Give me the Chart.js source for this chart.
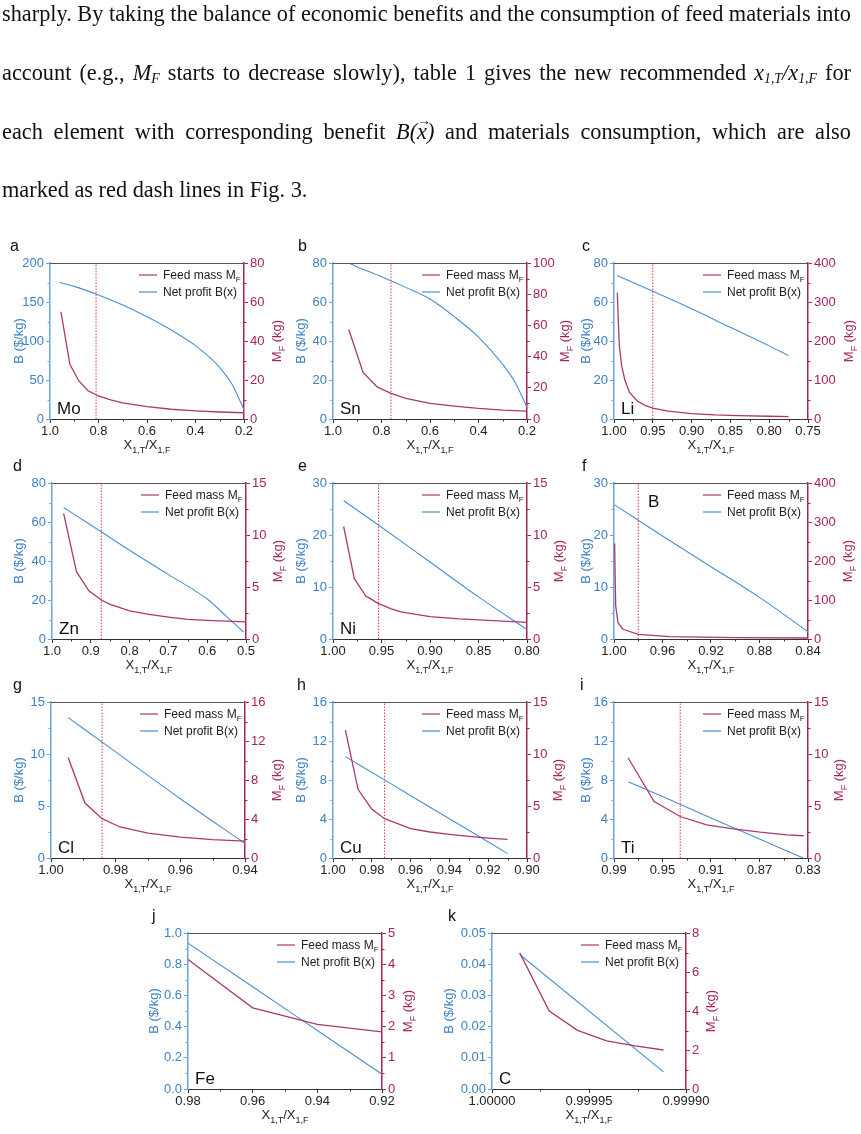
<!DOCTYPE html>
<html>
<head>
<meta charset="utf-8">
<script src="https://cdn.jsdelivr.net/npm/chart.js@4.4.1/dist/chart.umd.min.js"></script>
<style>
html, body { margin: 0; padding: 0; background: #fff; }
body { width: 861px; height: 1134px; position: relative; overflow: hidden; }
#para { position: absolute; left: 2px; top: 0; transform-origin: 0 0;
        font-family: "Liberation Serif", "Times New Roman", serif; font-size: 24px; color: #111; }
.line { position: absolute; left: 0; white-space: nowrap; line-height: 1; }
.just { display: flex; justify-content: space-between; }
.line sub { font-size: 0.62em; vertical-align: -0.22em; line-height: 0; }
v { position: relative; display: inline-block; }
v::after { content: '\2192'; position: absolute; left: 0.02em; top: -0.42em; font-size: 0.62em; font-style: normal; }
canvas { position: absolute; }
</style>
</head>
<body>
<div id="para"></div>
<script>
// ---- paragraph above the figure ----
const TEXT_LINES = [
  'sharply. By taking the balance of economic benefits and the consumption of feed materials into',
  'account (e.g., <i>M<sub>F</sub></i> starts to decrease slowly), table 1 gives the new recommended <i>x<sub>1,T</sub>/x<sub>1,F</sub></i> for',
  'each element with corresponding benefit <i>B(<v>x</v>)</i> and materials consumption, which are also',
  'marked as red dash lines in Fig. 3.'
];
const TEXT_BASELINES = [21, 80, 139, 197];

// ---- data ----
// a: Mo
const MO_X_TICKS = ['1.0', '0.8', '0.6', '0.4', '0.2'];
const MO_B_TICKS = ['0', '50', '100', '150', '200'];
const MO_M_TICKS = ['0', '20', '40', '60', '80'];
const MO_B_X = [0.96, 0.9, 0.8, 0.7, 0.6, 0.5, 0.4, 0.3, 0.25, 0.2];
const MO_B = [175, 170, 159, 146, 131, 114, 94, 66, 45, 12];
const MO_MF_X = [0.955, 0.918, 0.881, 0.843, 0.8, 0.75, 0.7, 0.6, 0.5, 0.4, 0.3, 0.2];
const MO_MF = [55, 28, 19.5, 14.5, 11.8, 9.8, 8.3, 6.3, 5, 4.2, 3.6, 3.2];
const MO_CUT = 0.81;

// b: Sn
const SN_X_TICKS = ['1.0', '0.8', '0.6', '0.4', '0.2'];
const SN_B_TICKS = ['0', '20', '40', '60', '80'];
const SN_M_TICKS = ['0', '20', '40', '60', '80', '100'];
const SN_B_X = [0.935, 0.9, 0.8, 0.7, 0.6, 0.5, 0.4, 0.3, 0.25, 0.2];
const SN_B = [80, 78, 73, 67.5, 61.5, 52.5, 42, 28, 19, 6];
const SN_MF_X = [0.935, 0.876, 0.818, 0.761, 0.7, 0.6, 0.5, 0.4, 0.3, 0.2];
const SN_MF = [57.4, 29.8, 20.6, 16.4, 13.2, 10, 8.3, 6.8, 5.7, 5.1];
const SN_CUT = 0.761;

// c: Li
const LI_X_TICKS = ['1.00', '0.95', '0.90', '0.85', '0.80', '0.75'];
const LI_B_TICKS = ['0', '20', '40', '60', '80'];
const LI_M_TICKS = ['0', '100', '200', '300', '400'];
const LI_B_X = [0.996, 0.95, 0.9, 0.85, 0.8, 0.775];
const LI_B = [73.6, 65.5, 56.5, 47, 37.5, 32.5];
const LI_MF_X = [0.9957, 0.9945, 0.993, 0.99, 0.986, 0.98, 0.97, 0.96, 0.95, 0.93, 0.9, 0.87, 0.84, 0.8, 0.775];
const LI_MF = [324, 250, 185, 135, 100, 68, 46, 35, 28, 20, 14, 10.5, 8.5, 7, 6];
const LI_CUT = 0.95;

// d: Zn
const ZN_X_TICKS = ['1.0', '0.9', '0.8', '0.7', '0.6', '0.5'];
const ZN_B_TICKS = ['0', '20', '40', '60', '80'];
const ZN_M_TICKS = ['0', '5', '10', '15'];
const ZN_B_X = [0.97, 0.9, 0.8, 0.7, 0.6, 0.55, 0.506];
const ZN_B = [67.4, 58.5, 45.5, 33, 20.5, 11.5, 3.6];
const ZN_MF_X = [0.97, 0.937, 0.905, 0.873, 0.85, 0.8, 0.75, 0.7, 0.65, 0.6, 0.55, 0.5];
const ZN_MF = [12.07, 6.47, 4.63, 3.75, 3.33, 2.7, 2.36, 2.1, 1.88, 1.8, 1.72, 1.65];
const ZN_CUT = 0.873;

// e: Ni
const NI_X_TICKS = ['1.00', '0.95', '0.90', '0.85', '0.80'];
const NI_B_TICKS = ['0', '10', '20', '30'];
const NI_M_TICKS = ['0', '5', '10', '15'];
const NI_B_X = [0.989, 0.95, 0.9, 0.85, 0.8];
const NI_B = [26.6, 21.5, 14.8, 8.1, 1.8];
const NI_MF_X = [0.989, 0.978, 0.966, 0.962, 0.954, 0.94, 0.93, 0.9, 0.87, 0.85, 0.8];
const NI_MF = [10.8, 5.8, 4.1, 3.9, 3.45, 2.9, 2.6, 2.16, 1.94, 1.84, 1.6];
const NI_CUT = 0.953;

// f: B
const BO_X_TICKS = ['1.00', '0.96', '0.92', '0.88', '0.84'];
const BO_B_TICKS = ['0', '10', '20', '30'];
const BO_M_TICKS = ['0', '100', '200', '300', '400'];
const BO_B_X = [0.9995, 0.96, 0.92, 0.88, 0.84];
const BO_B = [25.8, 19.8, 13.9, 8.0, 1.4];
const BO_MF_X = [0.9995, 0.9986, 0.9967, 0.9926, 0.98, 0.954, 0.899, 0.84];
const BO_MF = [245, 85, 42, 25, 12, 6, 3.4, 2.6];
const BO_CUT = 0.98;

// g: Cl
const CL_X_TICKS = ['1.00', '0.98', '0.96', '0.94'];
const CL_B_TICKS = ['0', '5', '10', '15'];
const CL_M_TICKS = ['0', '4', '8', '12', '16'];
const CL_B_X = [0.9947, 0.98, 0.96, 0.94];
const CL_B = [13.5, 10.2, 5.7, 1.4];
const CL_MF_X = [0.9947, 0.9895, 0.9842, 0.9787, 0.97, 0.96, 0.95, 0.94];
const CL_MF = [10.3, 5.64, 4.03, 3.18, 2.56, 2.15, 1.88, 1.74];
const CL_CUT = 0.9842;

// h: Cu
const CU_X_TICKS = ['1.00', '0.98', '0.96', '0.94', '0.92', '0.90'];
const CU_B_TICKS = ['0', '4', '8', '12', '16'];
const CU_M_TICKS = ['0', '5', '10', '15'];
const CU_B_X = [0.9936, 0.97, 0.95, 0.93, 0.91];
const CU_B = [10.4, 7.6, 5.2, 2.85, 0.45];
const CU_MF_X = [0.9936, 0.9871, 0.9802, 0.9734, 0.96, 0.95, 0.94, 0.93, 0.92, 0.91];
const CU_MF = [12.3, 6.6, 4.74, 3.78, 2.82, 2.5, 2.28, 2.08, 1.92, 1.8];
const CU_CUT = 0.9734;

// i: Ti
const TI_X_TICKS = ['0.99', '0.95', '0.91', '0.87', '0.83'];
const TI_B_TICKS = ['0', '4', '8', '12', '16'];
const TI_M_TICKS = ['0', '5', '10', '15'];
const TI_B_X = [0.978, 0.95, 0.91, 0.87, 0.834];
const TI_B = [7.8, 6.3, 4.1, 1.95, 0];
const TI_MF_X = [0.9784, 0.9569, 0.9354, 0.9136, 0.8915, 0.8694, 0.8474, 0.8336];
const TI_MF = [9.64, 5.43, 3.99, 3.19, 2.81, 2.49, 2.23, 2.14];
const TI_CUT = 0.9354;

// j: Fe
const FE_X_TICKS = ['0.98', '0.96', '0.94', '0.92'];
const FE_B_TICKS = ['0.0', '0.2', '0.4', '0.6', '0.8', '1.0'];
const FE_M_TICKS = ['0', '1', '2', '3', '4', '5'];
const FE_B_X = [0.98, 0.96, 0.94, 0.92];
const FE_B = [0.935, 0.655, 0.375, 0.095];
const FE_MF_X = [0.98, 0.96, 0.94, 0.92];
const FE_MF = [4.15, 2.6, 2.07, 1.83];

// k: C
const C_X_TICKS = ['1.00000', '0.99995', '0.99990'];
const C_B_TICKS = ['0.00', '0.01', '0.02', '0.03', '0.04', '0.05'];
const C_M_TICKS = ['0', '2', '4', '6', '8'];
const C_B_X = [0.9999857, 0.9999116];
const C_B = [0.0431, 0.0055];
const C_MF_X = [0.9999857, 0.9999705, 0.9999559, 0.9999409, 0.9999262, 0.9999116];
const C_MF = [6.98, 4.0, 3.01, 2.47, 2.21, 2.0];

// ---- styles ----
const FONT = '"Liberation Sans", Arial, Helvetica, sans-serif';
const BLUE_LINE = '#4b8fd0';
const BLUE_AXIS = '#6aa6dc';
const BLUE_TEXT = '#3d80c6';
const MF_LINE = '#a83a70';
const CRIMSON = '#a6225f';
const CUT_RED = '#e5393b';
const DARK = '#222';

const PAD_L = 56, PAD_R = 56, PAD_T = 28, PAD_B = 40;
const PLOT_W = 194, PLOT_H = 156;

const PANELS = [
  { letter: 'a', el: 'Mo', left: 50, top: 263, xT: MO_X_TICKS, bT: MO_B_TICKS, mT: MO_M_TICKS, bX: MO_B_X, b: MO_B, mX: MO_MF_X, m: MO_MF, cut: MO_CUT, lOff: 32, rOff: 32, letOff: 40 },
  { letter: 'b', el: 'Sn', left: 333, top: 263, xT: SN_X_TICKS, bT: SN_B_TICKS, mT: SN_M_TICKS, bX: SN_B_X, b: SN_B, mX: SN_MF_X, m: SN_MF, cut: SN_CUT, lOff: 33, rOff: 37, letOff: 35 },
  { letter: 'c', el: 'Li', left: 614, top: 263, xT: LI_X_TICKS, bT: LI_B_TICKS, mT: LI_M_TICKS, bX: LI_B_X, b: LI_B, mX: LI_MF_X, m: LI_MF, cut: LI_CUT, lOff: 29, rOff: 40, letOff: 32 },
  { letter: 'd', el: 'Zn', left: 52, top: 483, xT: ZN_X_TICKS, bT: ZN_B_TICKS, mT: ZN_M_TICKS, bX: ZN_B_X, b: ZN_B, mX: ZN_MF_X, m: ZN_MF, cut: ZN_CUT, lOff: 34, rOff: 31, letOff: 39 },
  { letter: 'e', el: 'Ni', left: 333, top: 483, xT: NI_X_TICKS, bT: NI_B_TICKS, mT: NI_M_TICKS, bX: NI_B_X, b: NI_B, mX: NI_MF_X, m: NI_MF, cut: NI_CUT, lOff: 33, rOff: 31, letOff: 35 },
  { letter: 'f', el: 'B', elTop: true, left: 614, top: 483, xT: BO_X_TICKS, bT: BO_B_TICKS, mT: BO_M_TICKS, bX: BO_B_X, b: BO_B, mX: BO_MF_X, m: BO_MF, cut: BO_CUT, lOff: 29, rOff: 39, letOff: 32 },
  { letter: 'g', el: 'Cl', left: 51, top: 702, xT: CL_X_TICKS, bT: CL_B_TICKS, mT: CL_M_TICKS, bX: CL_B_X, b: CL_B, mX: CL_MF_X, m: CL_MF, cut: CL_CUT, lOff: 33, rOff: 31, letOff: 38 },
  { letter: 'h', el: 'Cu', left: 333, top: 702, xT: CU_X_TICKS, bT: CU_B_TICKS, mT: CU_M_TICKS, bX: CU_B_X, b: CU_B, mX: CU_MF_X, m: CU_MF, cut: CU_CUT, lOff: 33, rOff: 30, letOff: 36 },
  { letter: 'i', el: 'Ti', left: 614, top: 702, xT: TI_X_TICKS, bT: TI_B_TICKS, mT: TI_M_TICKS, bX: TI_B_X, b: TI_B, mX: TI_MF_X, m: TI_MF, cut: TI_CUT, lOff: 29, rOff: 30, letOff: 34 },
  { letter: 'j', el: 'Fe', left: 188, top: 933, xT: FE_X_TICKS, bT: FE_B_TICKS, mT: FE_M_TICKS, bX: FE_B_X, b: FE_B, mX: FE_MF_X, m: FE_MF, cut: null, lOff: 35, rOff: 25, letOff: 36 },
  { letter: 'k', el: 'C', left: 492, top: 933, xT: C_X_TICKS, bT: C_B_TICKS, mT: C_M_TICKS, bX: C_B_X, b: C_B, mX: C_MF_X, m: C_MF, cut: null, lOff: 44, rOff: 24, letOff: 44 }
];

// ---- paragraph layout ----
(function buildParagraph() {
  const para = document.getElementById('para');
  const divs = TEXT_LINES.map((html, i) => {
    const d = document.createElement('div');
    d.className = 'line';
    d.innerHTML = html;
    d.style.top = (TEXT_BASELINES[i] - 20.2) + 'px';
    para.appendChild(d);
    return d;
  });
  const w = divs.map(d => d.getBoundingClientRect().width);
  const s = Math.min(316 / w[3], 849 / Math.max(w[0], w[1], w[2]));
  divs.slice(0, 3).forEach((d, i) => {
    d.innerHTML = TEXT_LINES[i].split(' ').map(t => '<span>' + t + '</span>').join('');
    d.classList.add('just');
    d.style.width = (849 / s) + 'px';
  });
  para.style.transform = 'scaleX(' + s + ')';
})();

// ---- drawing helpers ----
function richText(ctx, parts, x, y, size, color, align) {
  let total = 0;
  parts.forEach(p => {
    ctx.font = (p.sub ? Math.round(size * 0.7) : size) + 'px ' + FONT;
    p.w = ctx.measureText(p.t).width;
    total += p.w;
  });
  let cx = align === 'left' ? x : x - total / 2;
  ctx.fillStyle = color;
  ctx.textAlign = 'left';
  ctx.textBaseline = 'alphabetic';
  parts.forEach(p => {
    ctx.font = (p.sub ? Math.round(size * 0.7) : size) + 'px ' + FONT;
    ctx.fillText(p.t, cx, p.sub ? y + size * 0.28 : y);
    cx += p.w;
  });
}

function minorTicks(ctx, scale, side, a, color) {
  const t = scale.ticks.map(k => k.value);
  ctx.strokeStyle = color;
  ctx.lineWidth = 1;
  ctx.beginPath();
  for (let i = 0; i < t.length - 1; i++) {
    const p = Math.round(scale.getPixelForValue((t[i] + t[i + 1]) / 2)) + 0.5;
    if (side === 'x') { ctx.moveTo(p, a.bottom); ctx.lineTo(p, a.bottom + 2.5); }
    else if (side === 'l') { ctx.moveTo(a.left - 2.5, p); ctx.lineTo(a.left, p); }
    else { ctx.moveTo(a.right, p); ctx.lineTo(a.right + 2.5, p); }
  }
  ctx.stroke();
}

const decor = {
  id: 'decor',
  afterDraw(chart, args, cfg) {
    const ctx = chart.ctx, a = chart.chartArea;
    ctx.save();
    // top frame line
    ctx.strokeStyle = '#555';
    ctx.lineWidth = 1;
    ctx.beginPath();
    ctx.moveTo(a.left, a.top + 0.5);
    ctx.lineTo(a.right, a.top + 0.5);
    ctx.stroke();

    minorTicks(ctx, chart.scales.x, 'x', a, '#333');
    minorTicks(ctx, chart.scales.yB, 'l', a, BLUE_AXIS);
    minorTicks(ctx, chart.scales.yM, 'r', a, CRIMSON);

    // legend
    const lx = a.right - 105, ly = a.top + 12;
    ctx.lineWidth = 1.2;
    ctx.strokeStyle = MF_LINE;
    ctx.beginPath(); ctx.moveTo(lx, ly); ctx.lineTo(lx + 18, ly); ctx.stroke();
    ctx.strokeStyle = BLUE_LINE;
    ctx.beginPath(); ctx.moveTo(lx, ly + 17); ctx.lineTo(lx + 18, ly + 17); ctx.stroke();
    richText(ctx, [{ t: 'Feed mass M' }, { t: 'F', sub: true }], lx + 24, ly + 4, 12, DARK, 'left');
    richText(ctx, [{ t: 'Net profit B(x)' }], lx + 24, ly + 21, 12, DARK, 'left');

    // axis titles
    const midY = (a.top + a.bottom) / 2;
    richText(ctx, [{ t: 'X' }, { t: '1,T', sub: true }, { t: '/X' }, { t: '1,F', sub: true }],
      (a.left + a.right) / 2, a.bottom + 30, 13, DARK, 'center');
    ctx.save();
    ctx.translate(a.left - cfg.lOff, midY);
    ctx.rotate(-Math.PI / 2);
    richText(ctx, [{ t: 'B ($/kg)' }], 0, 5, 13, BLUE_TEXT, 'center');
    ctx.restore();
    ctx.save();
    ctx.translate(a.right + cfg.rOff, midY);
    ctx.rotate(-Math.PI / 2);
    richText(ctx, [{ t: 'M' }, { t: 'F', sub: true }, { t: ' (kg)' }], 0, 5, 13, CRIMSON, 'center');
    ctx.restore();

    // panel letter and element label
    ctx.fillStyle = '#111';
    ctx.font = '16px ' + FONT;
    ctx.textAlign = 'left';
    ctx.textBaseline = 'alphabetic';
    ctx.fillText(cfg.letter, a.left - cfg.letOff, a.top - 12);
    ctx.font = '17px ' + FONT;
    if (cfg.elTop) ctx.fillText(cfg.el, a.left + 34, a.top + 24);
    else ctx.fillText(cfg.el, a.left + 7, a.bottom - 5);
    ctx.restore();
  }
};

function pts(xs, ys) { return xs.map((x, i) => ({ x: x, y: ys[i] })); }

function makePanel(cfg) {
  const xv = cfg.xT.map(Number), bv = cfg.bT.map(Number), mv = cfg.mT.map(Number);
  const canvas = document.createElement('canvas');
  const cw = PLOT_W + PAD_L + PAD_R, ch = PLOT_H + PAD_T + PAD_B;
  canvas.width = cw; canvas.height = ch;
  canvas.style.width = cw + 'px'; canvas.style.height = ch + 'px';
  canvas.style.left = (cfg.left - PAD_L) + 'px';
  canvas.style.top = (cfg.top - PAD_T) + 'px';
  document.body.appendChild(canvas);

  const datasets = [
    { data: pts(cfg.mX, cfg.m), yAxisID: 'yM', borderColor: MF_LINE, borderWidth: 1.3 },
    { data: pts(cfg.bX, cfg.b), yAxisID: 'yB', borderColor: BLUE_LINE, borderWidth: 1.1,
      cubicInterpolationMode: 'monotone' }
  ];
  if (cfg.cut !== null) {
    datasets.push({ data: [{ x: cfg.cut, y: 0 }, { x: cfg.cut, y: Math.max(...bv) }], yAxisID: 'yB',
      borderColor: CUT_RED, borderWidth: 1, borderDash: [1.5, 1.5] });
  }

  const tickFont = { family: FONT, size: 13 };
  new Chart(canvas.getContext('2d'), {
    type: 'line',
    data: { datasets: datasets },
    options: {
      responsive: false,
      animation: false,
      layout: { padding: { top: PAD_T, left: 0, right: 0, bottom: 0 } },
      elements: { point: { radius: 0 }, line: { tension: 0 } },
      plugins: { legend: { display: false }, tooltip: { enabled: false }, decor: cfg },
      scales: {
        x: {
          type: 'linear', reverse: true, min: Math.min(...xv), max: Math.max(...xv),
          afterBuildTicks: s => { s.ticks = xv.map(v => ({ value: v })); },
          afterFit: s => { s.height = PAD_B; },
          ticks: { callback: (v, i) => cfg.xT[i], autoSkip: false, maxRotation: 0, minRotation: 0,
            color: DARK, font: tickFont, padding: 1 },
          grid: { drawOnChartArea: false, drawTicks: true, tickLength: 4, tickColor: '#333' },
          border: { color: '#333', width: 1 }
        },
        yB: {
          position: 'left', min: 0, max: Math.max(...bv),
          afterBuildTicks: s => { s.ticks = bv.map(v => ({ value: v })); },
          afterFit: s => { s.width = PAD_L; },
          ticks: { callback: (v, i) => cfg.bT[i], color: BLUE_TEXT, font: tickFont, padding: 2 },
          grid: { drawOnChartArea: false, drawTicks: true, tickLength: 4, tickColor: BLUE_AXIS },
          border: { color: BLUE_AXIS, width: 1.5 }
        },
        yM: {
          position: 'right', min: 0, max: Math.max(...mv),
          afterBuildTicks: s => { s.ticks = mv.map(v => ({ value: v })); },
          afterFit: s => { s.width = PAD_R; },
          ticks: { callback: (v, i) => cfg.mT[i], color: CRIMSON, font: tickFont, padding: 2 },
          grid: { drawOnChartArea: false, drawTicks: true, tickLength: 4, tickColor: CRIMSON },
          border: { color: CRIMSON, width: 1.5 }
        }
      }
    },
    plugins: [decor]
  });
}

PANELS.forEach(makePanel);
</script>
</body>
</html>
